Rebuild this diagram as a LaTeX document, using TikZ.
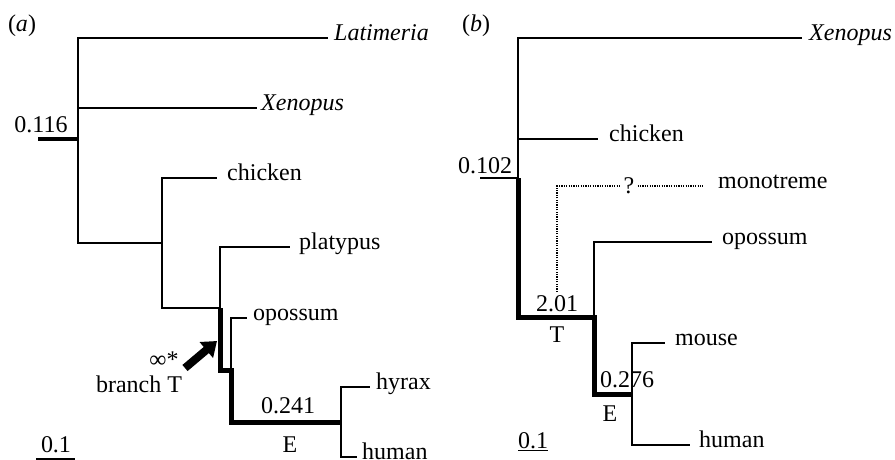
\documentclass[tikz,border=0pt]{standalone}
\usepackage{fontspec}
\setmainfont{Liberation Serif}
\usetikzlibrary{arrows.meta}

\begin{document}
\begin{tikzpicture}[x=1pt,y=-1pt,font=\fontsize{24}{28}\selectfont,
    twig/.style={line width=2.3pt},
    trunk/.style={line width=5pt},
    dots/.style={line width=1.3pt,dash pattern=on 1.2pt off 1.2pt},
    elbow/.style={to path={|- (\tikztotarget)}},
    leaf/.style={anchor=west,inner ysep=0pt,inner xsep=6pt,text height=0.6em,text depth=0.16em},
    lbl/.style={anchor=base,inner sep=0pt},
    bigarrow/.style={line width=8pt,-{Triangle[length=14pt,width=20pt]}}]
    \useasboundingbox (0,0) rectangle (895,460);

    % panel (a)
    \node[lbl] (pa) at (22,32) {(\textit{a})};
    \coordinate (a0) at (38,139);
    \coordinate (a1) at (78,139);
    \coordinate (a2) at (162,243);
    \coordinate (a3) at (220,308);
    \coordinate (a4) at (231,370);
    \coordinate (a5) at (341,422);

    \node[leaf] (latA) at (328,38) {\textit{Latimeria}};
    \node[leaf,inner xsep=4pt] (xenA) at (257,108) {\textit{Xenopus}};
    \node[leaf,inner xsep=10pt] (chkA) at (217,178) {chicken};
    \node[leaf,inner xsep=9pt] (plaA) at (290,247) {platypus};
    \node[leaf] (opoA) at (247,318) {opossum};
    \node[leaf] (hyrA) at (370,387) {hyrax};
    \node[leaf,inner xsep=5pt] (humA) at (357,457) {human};

    \node[lbl] (rootA) at (41,132) {0.116};
    \node[lbl] (lenE) at (288,413) {0.241};
    \node[lbl] (nameE) at (290,452) {E};
    \node[lbl] (inf) at (164,367) {∞*};
    \node[lbl] (nameT) at (139,392) {branch T};
    \node[lbl] (scA) at (56,452) {0.1};
    \coordinate (sa0) at (36,459);
    \coordinate (sa1) at (75,459);
    \coordinate (tail) at (185,368);
    \coordinate (head) at (217,341);

    \path[twig]
    (a1) edge[elbow] (latA)
    (a1) edge[elbow] (xenA)
    (a1) edge[elbow] (a2)
    (a2) edge[elbow] (chkA)
    (a2) edge[elbow] (a3)
    (a3) edge[elbow] (plaA)
    (a4) edge[elbow] (opoA)
    (a5) edge[elbow] (hyrA)
    (a5) edge[elbow] (humA)
    (sa0) edge (sa1);
    \draw[line width=4pt] (a0) -- (a1);
    \draw[trunk] (a3) |- (a4) |- (a5);
    \draw[bigarrow] (tail) -- (head);

    % panel (b)
    \node[lbl] (pb) at (476,32) {(\textit{b})};
    \coordinate (b0) at (480,178);
    \coordinate (b1) at (518,178);
    \coordinate (b2) at (594,317);
    \coordinate (b3) at (632,394);
    \coordinate (mq) at (557,292);

    \node[leaf,inner xsep=7pt] (xenB) at (802,38) {\textit{Xenopus}};
    \node[leaf,inner xsep=11pt] (chkB) at (598,139) {chicken};
    \node[leaf,inner xsep=15pt] (monB) at (703,186) {monotreme};
    \node[leaf,inner xsep=10pt] (opoB) at (712,242) {opossum};
    \node[leaf,inner xsep=10pt] (mouB) at (665,343) {mouse};
    \node[leaf,inner xsep=9pt] (humB) at (690,445) {human};
    \node[inner xsep=3pt,inner ysep=0pt] (qm) at (629,186) {?};

    \node[lbl] (rootB) at (485,173) {0.102};
    \node[lbl] (lenT) at (557,311) {2.01};
    \node[lbl] (nameTb) at (557,342) {T};
    \node[lbl] (lenEb) at (627,387) {0.276};
    \node[lbl] (nameEb) at (610,421) {E};
    \node[lbl] (scB) at (533,448) {\underline{0.1}};

    \path[twig]
    (b1) edge[elbow] (xenB)
    (b1) edge[elbow] (chkB)
    (b2) edge[elbow] (opoB)
    (b3) edge[elbow] (mouB)
    (b3) edge[elbow] (humB);
    \draw[line width=2.6pt] (b0) -- (b1);
    \draw[trunk] (b1) |- (b2) |- (b3);
    \path[dots]
    (mq) edge[elbow] (qm)
    (qm) edge (monB);
\end{tikzpicture}
\end{document}
